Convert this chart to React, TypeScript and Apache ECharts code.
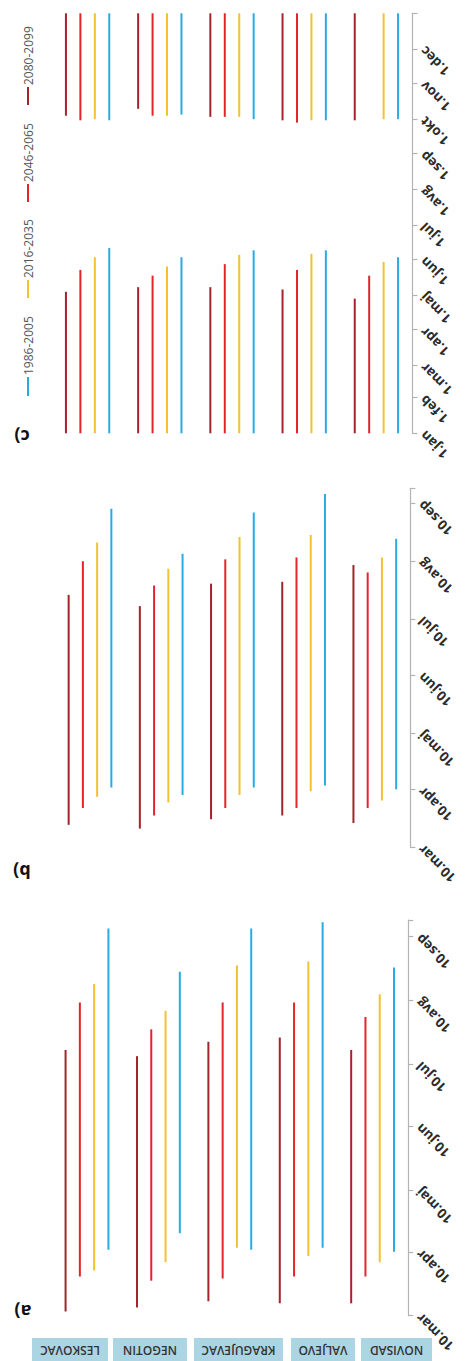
import React, { useEffect, useRef } from "react";
import * as echarts from "echarts";

// ---------- DATA ----------
const stations = ["LESKOVAC", "NEGOTIN", "KRAGUJEVAC", "VALJEVO", "NOVISAD"];
// order left-to-right inside each station group
const periods = ["2080-2099", "2046-2065", "2016-2035", "1986-2005"];
const periodColors = ["#a3242c", "#e3242b", "#f2c230", "#29abe2"];
// legend order (bottom to top)
const legendOrder = ["1986-2005", "2016-2035", "2046-2065", "2080-2099"];

// day of year (1.jan = 0)
// panel a) start / end
const aStart2080 = [70, 72, 75, 74, 74];
const aEnd2080 = [197, 194, 201, 203, 197];
const aStart2046 = [87, 85, 86, 87, 87];
const aEnd2046 = [220, 207, 220, 220, 213];
const aStart2016 = [90, 94, 101, 97, 94];
const aEnd2016 = [229, 216, 238, 240, 224];
const aStart1986 = [100, 108, 100, 101, 99];
const aEnd1986 = [256, 235, 256, 259, 237];

// panel b) start / end
const bStart2080 = [80, 78, 83, 85, 81];
const bEnd2080 = [203, 197, 209, 210, 219];
const bStart2046 = [89, 85, 89, 89, 89];
const bEnd2046 = [221, 208, 222, 223, 215];
const bStart2016 = [95, 92, 96, 98, 93];
const bEnd2016 = [231, 217, 234, 235, 223];
const bStart1986 = [100, 96, 100, 101, 99];
const bEnd1986 = [249, 225, 247, 257, 233];

// panel c) spring period end (from 1.jan) / autumn period start (to 31.dec)
const cSpring2080 = [123, 127, 127, 125, 117];
const cAutumn2080 = [276, 282, 275, 272, 272];
const cSpring2046 = [142, 137, 147, 142, 137];
const cAutumn2046 = [272, 276, 275, 270, null];
const cSpring2016 = [153, 145, 155, 156, 149];
const cAutumn2016 = [273, 276, 275, 272, 273];
const cSpring1986 = [161, 153, 159, 159, 153];
const cAutumn1986 = [272, 277, 273, 272, 273];

const yearStart = 0;
const yearEnd = 365;

// tick labels
const abTickValues = [68, 99, 129, 160, 190, 221, 252];
const abTickLabels = ["10.mar", "10.apr", "10.maj", "10.jun", "10.jul", "10.avg", "10.sep"];
const abMin = 68;
const abMax = 260;
const cTickValues = [0, 31, 59, 90, 120, 151, 181, 212, 243, 273, 304, 334];
const cTickLabels = ["1.jan", "1.feb", "1.mar", "1.apr", "1.maj", "1.jun", "1.jul", "1.avg", "1.sep", "1.okt", "1.nov", "1.dec"];
const panelLetters = ["a)", "b)", "c)"];

// ---------- BUILD ----------
const pairs = (s: (number | null)[], e: (number | null)[]) =>
  s.map((v, i) => [i, v, e[i]]).filter((d) => d[1] != null && d[2] != null);

const aRanges = [
  pairs(aStart2080, aEnd2080),
  pairs(aStart2046, aEnd2046),
  pairs(aStart2016, aEnd2016),
  pairs(aStart1986, aEnd1986),
];
const bRanges = [
  pairs(bStart2080, bEnd2080),
  pairs(bStart2046, bEnd2046),
  pairs(bStart2016, bEnd2016),
  pairs(bStart1986, bEnd1986),
];
const springAutumn = (sp: (number | null)[], au: (number | null)[]) => [
  ...pairs(sp.map(() => yearStart), sp),
  ...pairs(au, au.map(() => yearEnd)),
];
const cRanges = [
  springAutumn(cSpring2080, cAutumn2080),
  springAutumn(cSpring2046, cAutumn2046),
  springAutumn(cSpring2016, cAutumn2016),
  springAutumn(cSpring1986, cAutumn1986),
];

const FONT = "'Open Sans', 'DejaVu Sans', sans-serif";

function makeSeries(ranges: any[][], axisIdx: number) {
  return ranges.map((data, k) => ({
    type: "custom",
    name: periods[k],
    xAxisIndex: axisIdx,
    yAxisIndex: axisIdx,
    data,
    encode: { x: 0, y: [1, 2] },
    renderItem: (params: any, api: any) => {
      const idx = api.value(0);
      const p1 = api.coord([idx, api.value(1)]);
      const p2 = api.coord([idx, api.value(2)]);
      const band = api.size([1, 0])[0];
      const off = (k - 1.5) * band * 0.2;
      return {
        type: "line",
        shape: { x1: p1[0] + off, y1: p1[1], x2: p2[0] + off, y2: p2[1] },
        style: { stroke: periodColors[k], lineWidth: 2 },
      };
    },
  }));
}

function yAxis(gridIndex: number, min: number, max: number, vals: number[], labels: string[]) {
  return {
    type: "value",
    gridIndex,
    position: "right",
    min,
    max,
    splitLine: { show: false },
    axisLine: { show: true, lineStyle: { color: "#b3b3b3", width: 1.2 } },
    axisTick: {
      show: true,
      length: 5,
      lineStyle: { color: "#b3b3b3", width: 1.2 },
      customValues: [...vals, max],
    },
    axisLabel: {
      show: true,
      rotate: 135,
      margin: 10,
      color: "#2b2b2b",
      fontSize: 13.5,
      fontWeight: "bold",
      fontFamily: FONT,
      customValues: vals,
      formatter: (v: number) => {
        const i = vals.indexOf(Math.round(v));
        return i >= 0 ? labels[i] : "";
      },
    },
  };
}

function xAxis(gridIndex: number) {
  return {
    type: "category",
    gridIndex,
    data: stations,
    show: false,
    boundaryGap: true,
  };
}

// layout (pixels)
const grids = [
  { left: 51.3, top: 920.2, width: 357, height: 395.5 }, // a
  { left: 54.4, top: 488.3, width: 356, height: 359 }, // b
  { left: 51.5, top: 13.3, width: 361, height: 420 }, // c
];
const boxLayout = [
  { x: 32, w: 76 },
  { x: 113, w: 74 },
  { x: 194, w: 89 },
  { x: 291, w: 64 },
  { x: 361, w: 71 },
];
const legendLayout = [
  { markerTop: 377, markerBottom: 396 },
  { markerTop: 280, markerBottom: 298 },
  { markerTop: 184, markerBottom: 202 },
  { markerTop: 87, markerBottom: 105 },
];
const letterPos = [
  [23, 1312],
  [22, 872],
  [22, 437],
];

function buildGraphics() {
  const g: any[] = [];
  stations.forEach((s, i) => {
    const b = boxLayout[i];
    g.push({
      type: "rect",
      shape: { x: b.x, y: 1338, width: b.w, height: 26 },
      style: { fill: "#abd5e3" },
    });
    g.push({
      type: "text",
      x: b.x + b.w / 2,
      y: 1350.5,
      rotation: Math.PI,
      style: {
        text: s,
        fill: "#333",
        font: `600 12px ${FONT}`,
        textAlign: "center",
        textVerticalAlign: "middle",
      },
    });
  });
  legendOrder.forEach((p, i) => {
    const L = legendLayout[i];
    const k = periods.indexOf(p);
    g.push({
      type: "line",
      shape: { x1: 28, y1: L.markerTop, x2: 28, y2: L.markerBottom },
      style: { stroke: periodColors[k], lineWidth: 2 },
    });
    g.push({
      type: "text",
      x: 28,
      y: L.markerTop - 2,
      rotation: Math.PI / 2,
      style: {
        text: p,
        fill: "#555",
        font: `12px ${FONT}`,
        textAlign: "left",
        textVerticalAlign: "middle",
      },
    });
  });
  panelLetters.forEach((t, i) => {
    g.push({
      type: "text",
      x: letterPos[i][0],
      y: letterPos[i][1],
      rotation: Math.PI,
      style: {
        text: t,
        fill: "#111",
        font: `bold 18px ${FONT}`,
        textAlign: "center",
        textVerticalAlign: "middle",
      },
    });
  });
  return g;
}

export default function App() {
  const ref = useRef<HTMLDivElement>(null);
  useEffect(() => {
    document.body.style.margin = "0";
    const chart = echarts.init(ref.current!, undefined, { renderer: "svg" });
    chart.setOption({
      animation: false,
      backgroundColor: "#ffffff",
      grid: grids.map((g) => ({ ...g, containLabel: false, outerBoundsMode: "none" })),
      xAxis: [xAxis(0), xAxis(1), xAxis(2)],
      yAxis: [
        yAxis(0, abMin, abMax, abTickValues, abTickLabels),
        yAxis(1, abMin, abMax, abTickValues, abTickLabels),
        yAxis(2, yearStart, yearEnd, cTickValues, cTickLabels),
      ],
      series: [...makeSeries(aRanges, 0), ...makeSeries(bRanges, 1), ...makeSeries(cRanges, 2)],
      graphic: buildGraphics(),
    });
    return () => chart.dispose();
  }, []);
  return (
    <div
      ref={ref}
      style={{ position: "absolute", left: 0, top: 0, width: 467, height: 1361 }}
    />
  );
}
